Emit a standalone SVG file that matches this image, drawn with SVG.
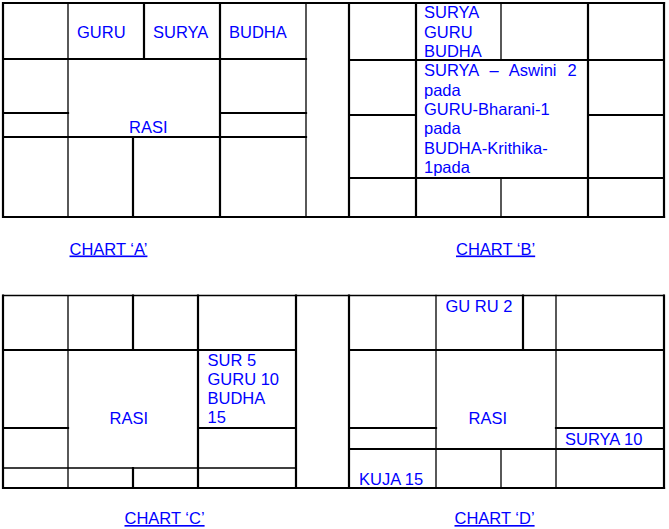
<svg xmlns="http://www.w3.org/2000/svg" width="669" height="529" viewBox="0 0 669 529">
<style>
.k{stroke:#000;stroke-width:2.2;fill:none;stroke-linecap:square}
.n{stroke:#000;stroke-width:1.3;fill:none;stroke-linecap:square}
text{font-family:"Liberation Sans",Arial,sans-serif;font-size:16.5px;fill:#0000ff}
.lb{text-decoration:underline}
</style>
<rect width="669" height="529" fill="#fff"/>
<g id="chart-a">
<path class="k" d="M3,3H664M3,217H664M3,3V217M144,3V59M220,3V217M3,59H306M3,113H68M220,113H306M3,137H306M133,137V217"/>
<path class="n" d="M68,3V217M306,3V217"/>
<text x="77" y="38">GURU</text>
<text x="153" y="38">SURYA</text>
<text x="229" y="38">BUDHA</text>
<text x="129" y="133">RASI</text>
<text class="lb" x="69.5" y="254.5">CHART ‘A’</text>
</g>
<g id="chart-b">
<path class="k" d="M349,3V217M416,3V217M588,3V217M664,3V217M349,60H664M349,115H416M588,115H664M349,178H664"/>
<path class="n" d="M501,3V60M501,178V217"/>
<text x="424" y="18">SURYA</text>
<text x="424" y="37.5">GURU</text>
<text x="424" y="56.5">BUDHA</text>
<text x="424" y="76" word-spacing="6.5">SURYA – Aswini 2</text>
<text x="424" y="95.5">pada</text>
<text x="424" y="115">GURU-Bharani-1</text>
<text x="424" y="134">pada</text>
<text x="424" y="153.5">BUDHA-Krithika-</text>
<text x="424" y="172.5">1pada</text>
<text class="lb" x="456" y="254.5">CHART ‘B’</text>
</g>
<g id="chart-c">
<path class="n" d="M3,295.5H664M68,295.5V488M3,468H296"/>
<path class="k" d="M3,488H664M3,295.5V488M133,295.5V350M133,468V488M198,295.5V488M296,295.5V488M3,350H296M3,428H68M198,428H296"/>
<text x="207.5" y="365.5">SUR 5</text>
<text x="207.5" y="385">GURU 10</text>
<text x="207.5" y="404">BUDHA</text>
<text x="207.5" y="423">15</text>
<text x="109.5" y="423.5">RASI</text>
<text class="lb" x="124.5" y="524">CHART ‘C’</text>
</g>
<g id="chart-d">
<path class="k" d="M349,295.5V488M523,295.5V350M664,295.5V488M349,350H664M349,428H436M556,428H664M349,449H664"/>
<path class="n" d="M436,295.5V488M556,295.5V488M501,449V488"/>
<text x="445.5" y="311.5">GU RU 2</text>
<text x="468.5" y="423.5">RASI</text>
<text x="565" y="445">SURYA 10</text>
<text x="359" y="484.5">KUJA 15</text>
<text class="lb" x="454.5" y="524">CHART ‘D’</text>
</g>
<g id="connectors"/>
</svg>
